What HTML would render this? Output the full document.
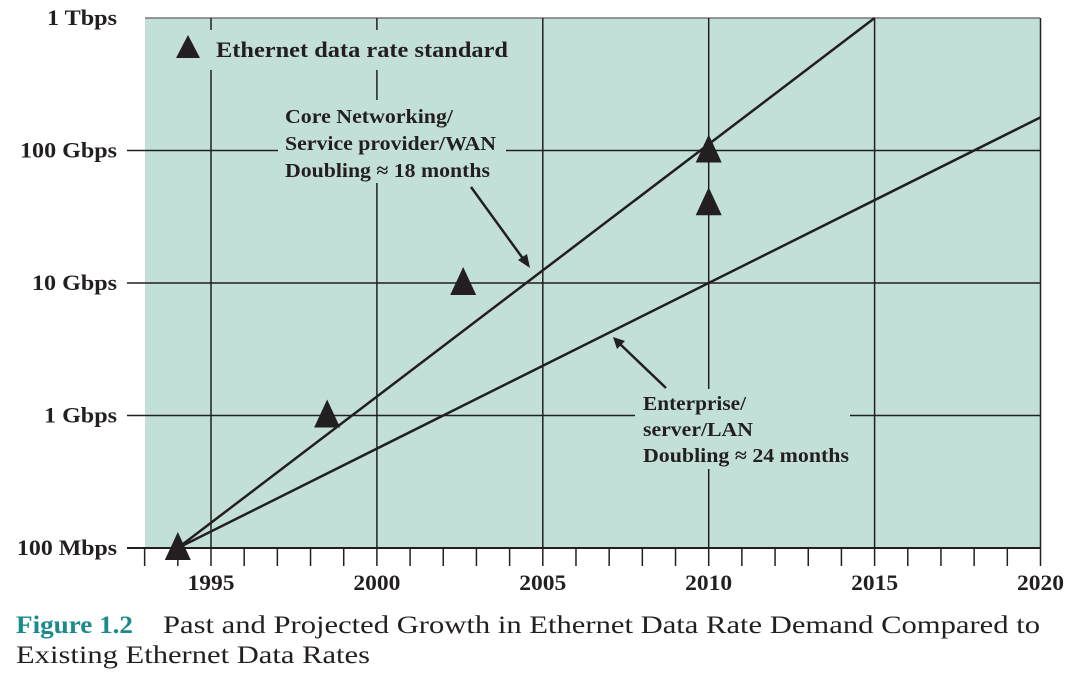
<!DOCTYPE html>
<html><head><meta charset="utf-8"><style>
body{margin:0;background:#fff;width:1073px;height:677px;overflow:hidden}
svg{display:block}
text{font-family:"Liberation Serif",serif;fill:#231f20}
</style></head><body>
<svg id="chart" width="1073" height="677" viewBox="0 0 1073 677">
<rect x="145" y="18" width="895" height="530" fill="#c2e0d8"/>
<line x1="145" y1="18" x2="1040" y2="18" stroke="#777" stroke-width="1.5"/>
<g id="grid"></g>
<g id="axes"></g>
<g id="lines"></g>
<g id="labels">
<rect x="170" y="30" width="350" height="40" fill="#c2e0d8"/>
<text x="216" y="57" font-size="22" font-weight="bold" textLength="292" lengthAdjust="spacingAndGlyphs">Ethernet data rate standard</text>
<rect x="278" y="100" width="228" height="83" fill="#c2e0d8"/>
<g font-size="20" font-weight="bold">
<text x="285" y="123" textLength="168" lengthAdjust="spacingAndGlyphs">Core Networking/</text>
<text x="285" y="150" textLength="211" lengthAdjust="spacingAndGlyphs">Service provider/WAN</text>
<text x="285" y="177" textLength="205" lengthAdjust="spacingAndGlyphs">Doubling ≈ 18 months</text>
</g>
<rect x="635" y="389" width="215" height="80" fill="#c2e0d8"/>
<g font-size="20" font-weight="bold">
<text x="643" y="410" textLength="103" lengthAdjust="spacingAndGlyphs">Enterprise/</text>
<text x="643" y="436" textLength="110" lengthAdjust="spacingAndGlyphs">server/LAN</text>
<text x="643" y="462" textLength="206" lengthAdjust="spacingAndGlyphs">Doubling ≈ 24 months</text>
</g>
<g stroke="#231f20" stroke-width="2.5"><line x1="471" y1="187" x2="524" y2="260"/></g>
<polygon points="530,268 518,260 527,254" fill="#231f20"/>
<g stroke="#231f20" stroke-width="2.5"><line x1="666" y1="388" x2="620" y2="344"/></g>
<polygon points="613,337 625,341 617,349" fill="#231f20"/>
</g>
<g id="marks"></g>
<polygon points="188,35 176,58 200,58" fill="#231f20"/>
<g font-size="25">
<text x="16" y="633" font-weight="bold" style="fill:#1b8a8c" textLength="117" lengthAdjust="spacingAndGlyphs">Figure 1.2</text>
<text x="163" y="633" textLength="877" lengthAdjust="spacingAndGlyphs">Past and Projected Growth in Ethernet Data Rate Demand Compared to</text>
<text x="16" y="663" textLength="354" lengthAdjust="spacingAndGlyphs">Existing Ethernet Data Rates</text>
</g>
</svg>
<script>
const xTicks=[1995,2000,2005,2010,2015,2020];
const yTickLabels=["100 Mbps","1 Gbps","10 Gbps","100 Gbps","1 Tbps"];
const yTickValues=[0.1,1,10,100,1000];
const standardYears=[1994,1998.5,2002.6,2010,2010];
const standardRates=[0.1,1,10,100,40];
const coreYears=[1994,2015];
const coreRates=[0.1,1000];
const entYears=[1994,2020];
const entRates=[0.1,178];
const labelWidthByText={"100 Mbps":100,"1 Gbps":73,"10 Gbps":85,"100 Gbps":97,"1 Tbps":70};
const NS="http://www.w3.org/2000/svg";
const X=y=>211+(y-1995)*33.18;
const Y=v=>548-(Math.log10(v)+1)*132.5;
function mk(tag,attrs,parent){const e=document.createElementNS(NS,tag);for(const k in attrs)e.setAttribute(k,attrs[k]);document.getElementById(parent).appendChild(e);return e;}
xTicks.forEach(t=>{const e=mk('line',{x1:X(t),x2:X(t),y1:18,y2:548,stroke:'#231f20','stroke-width':1.5},'grid');

});
yTickValues.slice(1,4).forEach(v=>{const e=mk('line',{x1:127,x2:1040,y1:Y(v),y2:Y(v),stroke:'#231f20','stroke-width':1.5},'grid');

});
const xa=mk('line',{x1:127,x2:1040,y1:548,y2:548,stroke:'#231f20','stroke-width':2},'axes');


for(let yr=1993;yr<=2020;yr++){const e=mk('line',{x1:X(yr),x2:X(yr),y1:548,y2:566,stroke:'#231f20','stroke-width':1.5},'axes');

}
xTicks.forEach(t=>{const e=mk('text',{x:X(t),y:590,'text-anchor':'middle','font-size':22,'font-weight':'bold',textLength:47,lengthAdjust:'spacingAndGlyphs'},'axes');e.textContent=t;

});
yTickValues.forEach((v,i)=>{const lbl=yTickLabels[i];const e=mk('text',{x:117,y:Y(v)+7,'text-anchor':'end','font-size':22,'font-weight':'bold',textLength:labelWidthByText[lbl]||lbl.length*10.5,lengthAdjust:'spacingAndGlyphs'},'axes');e.textContent=lbl;

});
const l1=mk('line',{x1:X(coreYears[0]),y1:Y(coreRates[0]),x2:X(coreYears[1]),y2:Y(coreRates[1]),stroke:'#231f20','stroke-width':2.5},'lines');


const l2=mk('line',{x1:X(entYears[0]),y1:Y(entRates[0]),x2:X(entYears[1]),y2:Y(entRates[1]),stroke:'#231f20','stroke-width':2.5},'lines');


standardYears.forEach((yr,i)=>{const cx=X(yr),cy=Y(standardRates[i]);
const e=mk('polygon',{points:`${cx},${cy-16} ${cx-13},${cy+12} ${cx+13},${cy+12}`,fill:'#231f20'},'marks');

});
</script>
</body></html>
